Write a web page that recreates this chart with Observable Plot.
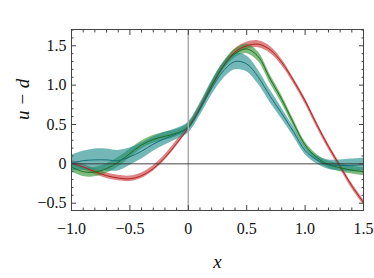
<!DOCTYPE html>
<html>
<head>
<meta charset="utf-8">
<script src="https://cdn.jsdelivr.net/npm/d3@7"></script>
<script src="https://cdn.jsdelivr.net/npm/@observablehq/plot@0.6"></script>
<style>
  html, body { margin: 0; padding: 0; background: #fff; }
  svg, svg text { font-family: "Liberation Serif", "DejaVu Serif", serif !important; }
</style>
</head>
<body>
<div id="chart"></div>
<script>
const xs = [-1.0, -0.9, -0.8, -0.7, -0.6, -0.5, -0.4, -0.3, -0.2, -0.1, 0.0, 0.1, 0.2, 0.3, 0.4, 0.5, 0.6, 0.7, 0.8, 0.9, 1.0, 1.1, 1.2, 1.3, 1.4, 1.5];

const redMid = [0.01, -0.04, -0.10, -0.15, -0.18, -0.19, -0.15, -0.06, 0.08, 0.26, 0.46, 0.71, 0.99, 1.24, 1.42, 1.50, 1.52, 1.45, 1.29, 1.06, 0.80, 0.50, 0.22, -0.03, -0.28, -0.49];
const redErr = [0.035, 0.035, 0.035, 0.035, 0.035, 0.035, 0.035, 0.035, 0.035, 0.035, 0.035, 0.035, 0.035, 0.035, 0.04, 0.045, 0.045, 0.045, 0.04, 0.035, 0.035, 0.035, 0.035, 0.035, 0.035, 0.035];

const greenMid = [-0.04, -0.10, -0.105, -0.06, 0.02, 0.13, 0.24, 0.31, 0.35, 0.39, 0.47, 0.70, 0.99, 1.24, 1.40, 1.46, 1.36, 1.08, 0.82, 0.52, 0.24, 0.08, -0.01, -0.05, -0.08, -0.10];
const greenErr = [0.06, 0.06, 0.06, 0.06, 0.06, 0.055, 0.05, 0.05, 0.05, 0.045, 0.045, 0.045, 0.05, 0.05, 0.055, 0.06, 0.06, 0.055, 0.05, 0.045, 0.04, 0.04, 0.045, 0.05, 0.05, 0.05];

const tealMid = [0.01, 0.04, 0.05, 0.05, 0.04, 0.09, 0.16, 0.25, 0.32, 0.38, 0.46, 0.69, 0.96, 1.18, 1.30, 1.27, 1.10, 0.86, 0.64, 0.41, 0.17, 0.05, -0.01, -0.02, -0.02, -0.01];
const tealErr = [0.10, 0.12, 0.14, 0.14, 0.13, 0.11, 0.10, 0.09, 0.08, 0.07, 0.07, 0.08, 0.09, 0.10, 0.105, 0.10, 0.09, 0.08, 0.07, 0.06, 0.05, 0.05, 0.06, 0.07, 0.08, 0.08];

const xMajor = [-1.0, -0.5, 0, 0.5, 1.0, 1.5];
const yMajor = [-0.5, 0, 0.5, 1.0, 1.5];
const xLabel = "x";
const yLabel = "u − d";

const xMinor = d3.range(-10, 16).map(i => i / 10).filter(v => !xMajor.some(m => Math.abs(m - v) < 1e-9));
const yMinor = d3.range(-5, 18).map(i => i / 10).filter(v => !yMajor.some(m => Math.abs(m - v) < 1e-9));

function rows(mid, err) {
  return xs.map((x, i) => ({x, mid: mid[i], lo: mid[i] - err[i], hi: mid[i] + err[i]}));
}
const series = [
  {name: "red", data: rows(redMid, redErr), fill: "#c93838", line: "#b02020"},
  {name: "green", data: rows(greenMid, greenErr), fill: "#2e922e", line: "#1d6e1d"},
  {name: "teal", data: rows(tealMid, tealErr), fill: "#1f8a8a", line: "#16707a"}
];

const fmt = d => d === 0 ? "0" : d3.format(".1f")(d);
const tickColor = "#444";
const serif = "Liberation Serif";

const marks = [];
for (const s of series) {
  marks.push(Plot.areaY(s.data, {x: "x", y1: "lo", y2: "hi", fill: s.fill, fillOpacity: 0.62, curve: "catmull-rom"}));
}
for (const s of series) {
  marks.push(Plot.line(s.data, {x: "x", y: "mid", stroke: s.line, strokeWidth: 1, curve: "catmull-rom"}));
}
marks.push(
  Plot.ruleX([0], {stroke: "#aaa", strokeWidth: 1.5}),
  Plot.ruleY([0], {stroke: "#333", strokeWidth: 0.9}),
  Plot.frame({stroke: tickColor, strokeWidth: 1}),
  Plot.axisX(xMajor, {anchor: "bottom", tickSize: -5, text: null, label: null, stroke: tickColor}),
  Plot.axisX(xMinor, {anchor: "bottom", tickSize: -2.5, text: null, label: null, stroke: tickColor}),
  Plot.axisX(xMajor, {anchor: "top", tickSize: -5, text: null, label: null, stroke: tickColor}),
  Plot.axisX(xMinor, {anchor: "top", tickSize: -2.5, text: null, label: null, stroke: tickColor}),
  Plot.axisX(xMajor, {anchor: "bottom", tickSize: 0, tickPadding: 12, tickFormat: fmt, label: null, fontFamily: serif, fontSize: 16}),
  Plot.axisY(yMajor, {anchor: "left", tickSize: -5, text: null, label: null, stroke: tickColor}),
  Plot.axisY(yMinor, {anchor: "left", tickSize: -2.5, text: null, label: null, stroke: tickColor}),
  Plot.axisY(yMajor, {anchor: "right", tickSize: -5, text: null, label: null, stroke: tickColor}),
  Plot.axisY(yMinor, {anchor: "right", tickSize: -2.5, text: null, label: null, stroke: tickColor}),
  Plot.axisY(yMajor, {anchor: "left", tickSize: 0, tickPadding: 5, tickFormat: fmt, label: null, fontFamily: serif, fontSize: 16}),
  Plot.text([xLabel], {frameAnchor: "bottom", dy: 57, fontStyle: "italic", fontSize: 19, fontFamily: serif}),
  Plot.text([yLabel], {frameAnchor: "left", dx: -49, rotate: -90, fontStyle: "italic", fontSize: 19, fontFamily: serif})
);

const chart = Plot.plot({
  width: 374,
  height: 278,
  marginLeft: 71,
  marginRight: 11,
  marginTop: 29,
  marginBottom: 68,
  style: {fontFamily: serif, fontSize: "16px", color: "#111", background: "#fff"},
  x: {domain: [-1.0, 1.5]},
  y: {domain: [-0.593, 1.707]},
  marks
});
document.getElementById("chart").appendChild(chart);
</script>
</body>
</html>
